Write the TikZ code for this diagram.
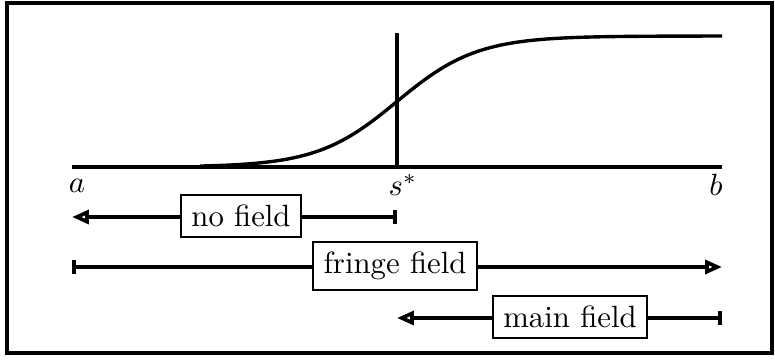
\documentclass[tikz,border=0pt]{standalone}
\usetikzlibrary{arrows.meta}
\tikzset{
    frame/.style={
        line width=1.2pt
    },
    curve/.style={
        line width=1.1pt
    },
    lbl/.style={
        draw, line width=0.7pt, inner sep=3.3pt, fill=white
    },
    tipopen/.style={
        line width=1pt, -{Triangle[open, length=5.5pt, width=4.5pt, line width=1.2pt]}
    },
    tipbar/.style={
        line width=1pt, -{Bar[width=4.5pt, line width=1.2pt]}
    }
}

\begin{document}
\begin{tikzpicture}[x=0.325pt, y=-0.325pt]
        \useasboundingbox (0,0) rectangle (775,360);
        \draw[frame] (7,3) rectangle (772,353);

        % axis and field profile
        \coordinate (a) at (72,167);
        \coordinate (s) at (397,167);
        \coordinate (b) at (722,167);
        \coordinate (stop) at (397,33);

        \draw[curve] (a) -- (b);
        \draw[curve] (s) -- (stop);
        \draw[curve] plot[domain=200:722, samples=90, smooth]
                (\x, {167-131/(1+exp(-(\x-397)/40))});

        \node (la) at (77,186) {$a$};
        \node (ls) at (403,185) {$s^*$};
        \node (lb) at (716,185) {$b$};

        % ranges
        \coordinate (r1l) at (72,217);
        \coordinate (r1r) at (397,217);
        \coordinate (r2l) at (72,267);
        \coordinate (r2r) at (722,267);
        \coordinate (r3l) at (397,318);
        \coordinate (r3r) at (722,318);

        \node[lbl] (nofield) at (241,216) {no field};
        \node[lbl] (fringe) at (395,266) {fringe field};
        \node[lbl] (mainf) at (570,317) {main field};

        \draw[tipopen] (nofield.west |- r1l) -- (r1l);
        \draw[tipbar] (nofield.east |- r1r) -- (r1r);
        \draw[tipbar] (fringe.west |- r2l) -- (r2l);
        \draw[tipopen] (fringe.east |- r2r) -- (r2r);
        \draw[tipopen] (mainf.west |- r3l) -- (r3l);
        \draw[tipbar] (mainf.east |- r3r) -- (r3r);
\end{tikzpicture}
\end{document}
